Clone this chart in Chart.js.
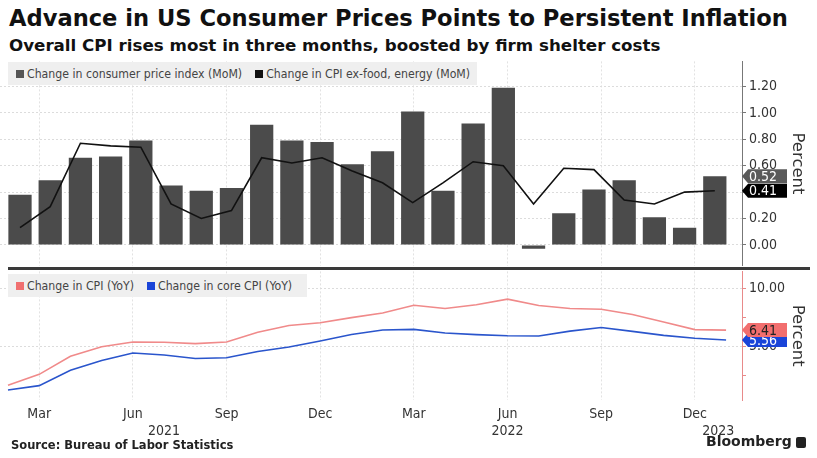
<!DOCTYPE html>
<html>
<head>
<meta charset="utf-8">
<script src="https://cdn.jsdelivr.net/npm/chart.js@4.4.1/dist/chart.umd.min.js"></script>
<style>
  body { margin: 0; background: #fff; width: 817px; height: 458px; overflow: hidden; position: relative;
         font-family: 'DejaVu Sans', sans-serif; color: #111; }
  .abs { position: absolute; white-space: nowrap; }
  #title { left: 9px; top: 5px; font-weight: bold; font-size: 22.6px; }
  #subtitle { left: 9px; top: 35px; font-weight: bold; font-size: 16.7px; }
  .legend { background: #efefef; height: 23px; font-size: 12.2px; color: #444; display: flex; align-items: center;
            padding-left: 8px; box-sizing: border-box; font-family: 'DejaVu Sans Condensed', 'DejaVu Sans', sans-serif; }
  .legend .sw { display: inline-block; width: 8px; height: 8px; margin-right: 3px; }
  .legend .item { margin-right: 13px; display: flex; align-items: center; }
  #sep { left: 8px; top: 267px; width: 802px; height: 3px; background: #3a3a3a; }
  #source { left: 11px; top: 438px; font-weight: bold; font-size: 11.5px; color: #222; }
  #brand { left: 706px; top: 433px; font-weight: bold; font-size: 14px; color: #222; }
  #logo { left: 796px; top: 437px; width: 10px; height: 11px; background: #222; border-radius: 2px; }
</style>
</head>
<body>
<div class="abs" id="title">Advance in US Consumer Prices Points to Persistent Inflation</div>
<div class="abs" id="subtitle">Overall CPI rises most in three months, boosted by firm shelter costs</div>

<canvas id="topChart" class="abs" style="left:0;top:50px" width="817" height="227"></canvas>
<canvas id="botChart" class="abs" style="left:0;top:260px" width="817" height="180"></canvas>

<div class="abs legend" style="left:8px;top:62px;width:469px">
  <span class="item"><span class="sw" style="background:#555"></span>Change in consumer price index (MoM)</span>
  <span class="item"><span class="sw" style="background:#111"></span>Change in CPI ex-food, energy (MoM)</span>
</div>
<div class="abs legend" style="left:8px;top:274px;width:299px">
  <span class="item"><span class="sw" style="background:#f07070"></span>Change in CPI (YoY)</span>
  <span class="item"><span class="sw" style="background:#1a44d8"></span>Change in core CPI (YoY)</span>
</div>
<div class="abs" id="sep"></div>
<div class="abs" id="source">Source: Bureau of Labor Statistics</div>
<div class="abs" id="brand">Bloomberg</div>
<div class="abs" id="logo"></div>

<script>
// Monthly data, Feb 2021 .. Jan 2023
const months = ['Feb 2021', 'Mar 2021', 'Apr 2021', 'May 2021', 'Jun 2021', 'Jul 2021', 'Aug 2021', 'Sep 2021',
    'Oct 2021', 'Nov 2021', 'Dec 2021', 'Jan 2022', 'Feb 2022', 'Mar 2022', 'Apr 2022', 'May 2022',
    'Jun 2022', 'Jul 2022', 'Aug 2022', 'Sep 2022', 'Oct 2022', 'Nov 2022', 'Dec 2022', 'Jan 2023'];

const cpiMoM = [0.38, 0.49, 0.66, 0.67, 0.79, 0.45, 0.41, 0.43, 0.91, 0.79, 0.78, 0.61,
    0.71, 1.01, 0.41, 0.92, 1.19, -0.03, 0.24, 0.42, 0.49, 0.21, 0.13, 0.52];
const coreMoM = [0.13, 0.29, 0.77, 0.75, 0.74, 0.31, 0.20, 0.26, 0.66, 0.62, 0.66, 0.56,
    0.47, 0.32, 0.47, 0.63, 0.60, 0.31, 0.58, 0.57, 0.34, 0.31, 0.40, 0.41];

const cpiYoY = [1.68, 2.62, 4.16, 4.99, 5.39, 5.37, 5.25, 5.39, 6.22, 6.81, 7.04, 7.48,
    7.87, 8.54, 8.26, 8.58, 9.06, 8.52, 8.26, 8.20, 7.75, 7.11, 6.45, 6.41];
const coreYoY = [1.28, 1.65, 2.96, 3.80, 4.45, 4.27, 3.98, 4.04, 4.58, 4.96, 5.48, 6.04,
    6.42, 6.47, 6.16, 6.02, 5.92, 5.90, 6.32, 6.63, 6.30, 5.96, 5.71, 5.56];

// x tick labels (month index into `months`)
const monthTickIdx = [1, 4, 7, 10, 13, 16, 19, 22];
const monthTickLabels = ['Mar', 'Jun', 'Sep', 'Dec', 'Mar', 'Jun', 'Sep', 'Dec'];
const yearTickIdx = [5, 16, 22.75];
const yearTickLabels = ['2021', '2022', '2023'];

const topTicks = [0, 0.2, 0.4, 0.6, 0.8, 1.0, 1.2];
const botTicks = [2.5, 5, 7.5, 10];
const botLabeled = [5, 10];

const FONT = "'DejaVu Sans Condensed', 'DejaVu Sans', sans-serif";
const AXIS_W = 75;

// bars are squeezed inside the month range, lines sit on month ends
const topX = { min: -0.662, max: 23.9 };
const botX = { min: -0.256, max: 23.51 };
function toTopX(k) {
    return topX.min + (k - botX.min) / (botX.max - botX.min) * (topX.max - topX.min);
}

const tagPlugin = {
    id: 'tags',
    afterDraw(chart, args, opts) {
        const ctx = chart.ctx;
        const y = chart.scales.y;
        const x0 = chart.chartArea.right;
        (opts.items || []).forEach(t => {
            const py = y.getPixelForValue(t.value);
            const h = 14, w = 45, tip = 6;
            ctx.save();
            ctx.beginPath();
            ctx.moveTo(x0, py);
            ctx.lineTo(x0 + tip, py - h / 2);
            ctx.lineTo(x0 + w, py - h / 2);
            ctx.lineTo(x0 + w, py + h / 2);
            ctx.lineTo(x0 + tip, py + h / 2);
            ctx.closePath();
            ctx.fillStyle = t.bg;
            ctx.fill();
            ctx.fillStyle = t.fg;
            ctx.font = '14px ' + FONT;
            ctx.textBaseline = 'middle';
            ctx.fillText(t.value.toFixed(2), x0 + tip + 1, py + 1);
            ctx.restore();
        });
    }
};

function yAxis(min, max, ticks, labelFn, borderColor) {
    return {
        position: 'right',
        min: min,
        max: max,
        afterBuildTicks: s => { s.ticks = ticks.map(v => ({ value: v })); },
        afterFit: s => { s.width = AXIS_W; },
        ticks: { color: '#333', font: { family: FONT, size: 14 }, padding: 3, callback: labelFn },
        grid: {
            color: c => labelFn(c.tick.value) ? '#dcdcdc' : 'rgba(0,0,0,0)',
            tickColor: borderColor, tickLength: 4
        },
        border: { color: borderColor, dash: [2, 2] },
        title: { display: true, text: 'Percent', color: '#333', font: { family: 'DejaVu Sans', size: 16.5 }, padding: { top: 10, bottom: 0 } }
    };
}

new Chart(document.getElementById('topChart'), {
    type: 'bar',
    data: {
        datasets: [{
            type: 'line',
            label: 'Change in CPI ex-food, energy (MoM)',
            data: coreMoM.map((v, i) => ({ x: i, y: v })),
            borderColor: '#111',
            borderWidth: 1.6,
            pointRadius: 0,
            tension: 0,
            order: 0
        }, {
            label: 'Change in consumer price index (MoM)',
            data: cpiMoM.map((v, i) => ({ x: i, y: v })),
            backgroundColor: '#4b4b4b',
            barPercentage: 0.77,
            categoryPercentage: 1,
            order: 1
        }]
    },
    options: {
        responsive: false,
        animation: false,
        layout: { padding: { top: 10, bottom: 10, left: 0, right: 0 } },
        plugins: {
            legend: { display: false },
            tooltip: { enabled: false },
            tags: { items: [
                { value: cpiMoM[cpiMoM.length - 1], bg: '#5a5a5a', fg: '#fff' },
                { value: coreMoM[coreMoM.length - 1], bg: '#000', fg: '#fff' }
            ] }
        },
        scales: {
            x: {
                type: 'linear',
                offset: false,
                min: topX.min,
                max: topX.max,
                afterBuildTicks: s => { s.ticks = monthTickIdx.map(k => ({ value: toTopX(k) })); },
                afterFit: s => { s.height = 0; },
                ticks: { display: false },
                grid: { color: '#e2e2e2', drawTicks: false, offset: false },
                border: { display: false, dash: [2, 2] }
            },
            y: yAxis(-0.157, 1.39, topTicks, v => v.toFixed(2), '#777')
        }
    },
    plugins: [tagPlugin]
});

new Chart(document.getElementById('botChart'), {
    type: 'line',
    data: {
        datasets: [{
            label: 'Change in CPI (YoY)',
            data: cpiYoY.map((v, i) => ({ x: i, y: v })),
            borderColor: '#f08a8a',
            borderWidth: 1.6,
            pointRadius: 0,
            tension: 0
        }, {
            label: 'Change in core CPI (YoY)',
            data: coreYoY.map((v, i) => ({ x: i, y: v })),
            borderColor: '#2a55cc',
            borderWidth: 1.6,
            pointRadius: 0,
            tension: 0
        }]
    },
    options: {
        responsive: false,
        animation: false,
        layout: { padding: { top: 10, bottom: 0, left: 0, right: 0 } },
        plugins: {
            legend: { display: false },
            tooltip: { enabled: false },
            tags: { items: [
                { value: coreYoY[coreYoY.length - 1], bg: '#1a44d8', fg: '#fff' },
                { value: cpiYoY[cpiYoY.length - 1], bg: '#f26e6e', fg: '#222' }
            ] }
        },
        scales: {
            x: {
                type: 'linear',
                min: botX.min,
                max: botX.max,
                afterBuildTicks: s => {
                    const vals = monthTickIdx.concat(yearTickIdx.filter(v => !monthTickIdx.includes(v)));
                    s.ticks = vals.sort((a, b) => a - b).map(v => ({ value: v }));
                },
                afterFit: s => { s.height = 40; },
                ticks: {
                    autoSkip: false,
                    maxRotation: 0,
                    padding: 6,
                    color: '#333',
                    font: { family: FONT, size: 14 },
                    callback: v => {
                        const m = monthTickIdx.indexOf(v);
                        const yi = yearTickIdx.indexOf(v);
                        const lines = [m >= 0 ? monthTickLabels[m] : ''];
                        if (yi >= 0) lines.push(yearTickLabels[yi]);
                        return lines;
                    }
                },
                grid: {
                    color: c => monthTickIdx.includes(c.tick.value) ? '#e2e2e2' : 'rgba(0,0,0,0)',
                    drawTicks: false
                },
                border: { display: false, dash: [2, 2] }
            },
            y: yAxis(0.42, 11.44, botTicks, v => botLabeled.includes(v) ? v.toFixed(2) : '', '#e88a8a')
        }
    },
    plugins: [tagPlugin]
});
</script>
</body>
</html>
